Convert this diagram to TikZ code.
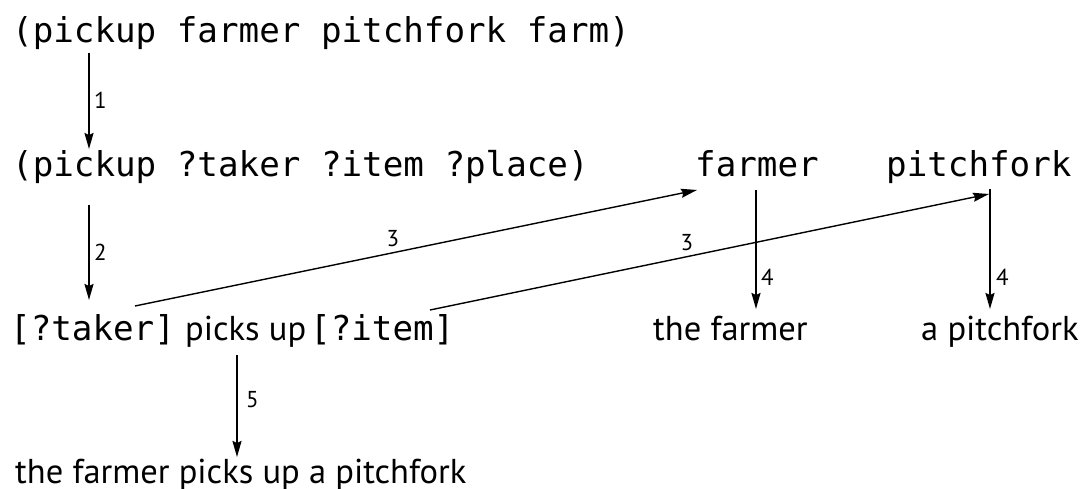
\documentclass[tikz,border=0pt]{standalone}
\usepackage{fontspec}
\setmainfont{PT Sans}
\newfontfamily\monof{DejaVu Sans Mono}
\usetikzlibrary{arrows.meta}
\begin{document}
\begin{tikzpicture}[x=1pt,y=-1pt,
  mono/.style={font=\monof\fontsize{34.2}{40}\selectfont, inner sep=0pt, anchor=base west},
  txt/.style={font=\fontsize{34.5}{40}\selectfont, inner sep=0pt, anchor=base west},
  lbl/.style={font=\fontsize{23}{26}\selectfont, inner sep=0pt},
  arr/.style={-{Stealth[length=16pt,width=9pt,inset=2pt]}, line width=1.8pt},
  darr/.style={-{Stealth[length=16pt,width=9pt,inset=2pt]}, line width=1.4pt}]
\useasboundingbox (0,0) rectangle (1080,489);
% texts
\node[mono] (r1) at (12,43) {(pickup farmer pitchfork farm)};
\node[mono] (r2) at (12,177) {(pickup ?taker ?item ?place)};
\node[mono] (fa) at (695,177) {farmer};
\node[mono] (pf) at (886,177) {pitchfork};
\node[mono] (tk) at (10,341) {[?taker]};
\node[txt] (pu) at (185,341) {picks up};
\node[mono] (it) at (310,341) {[?item]};
\node[txt] (tf) at (653,341) {the farmer};
\node[txt] (ap) at (921,341) {a pitchfork};
\node[txt] (fin) at (15,483) {the farmer picks up a pitchfork};
% connector ends
\coordinate (a1s) at (89,53);   \coordinate (a1e) at (89,149);
\coordinate (a2s) at (89,205);  \coordinate (a2e) at (89,300);
\coordinate (a3s) at (135,306); \coordinate (a3e) at (697,190);
\coordinate (b3s) at (430,310); \coordinate (b3e) at (989,194);
\coordinate (a4s) at (756,190); \coordinate (a4e) at (756,309);
\coordinate (b4s) at (990,189); \coordinate (b4e) at (990,309);
\coordinate (a5s) at (237,355); \coordinate (a5e) at (237,457);
% connectors
\draw[arr] (a1s) -- (a1e);
\draw[arr] (a2s) -- (a2e);
\draw[darr] (a3s) -- (a3e);
\draw[darr] (b3s) -- (b3e);
\draw[arr] (a4s) -- (a4e);
\draw[arr] (b4s) -- (b4e);
\draw[arr] (a5s) -- (a5e);
% labels
\node[lbl, anchor=west] (l1) at (94,100) {1};
\node[lbl, anchor=west] (l2) at (94,252) {2};
\node[lbl] (l3a) at (393,239) {3};
\node[lbl] (l3b) at (687,243) {3};
\node[lbl, anchor=west] (l4a) at (761,277) {4};
\node[lbl, anchor=west] (l4b) at (996,277) {4};
\node[lbl, anchor=west] (l5) at (246,400) {5};
\end{tikzpicture}
\end{document}
